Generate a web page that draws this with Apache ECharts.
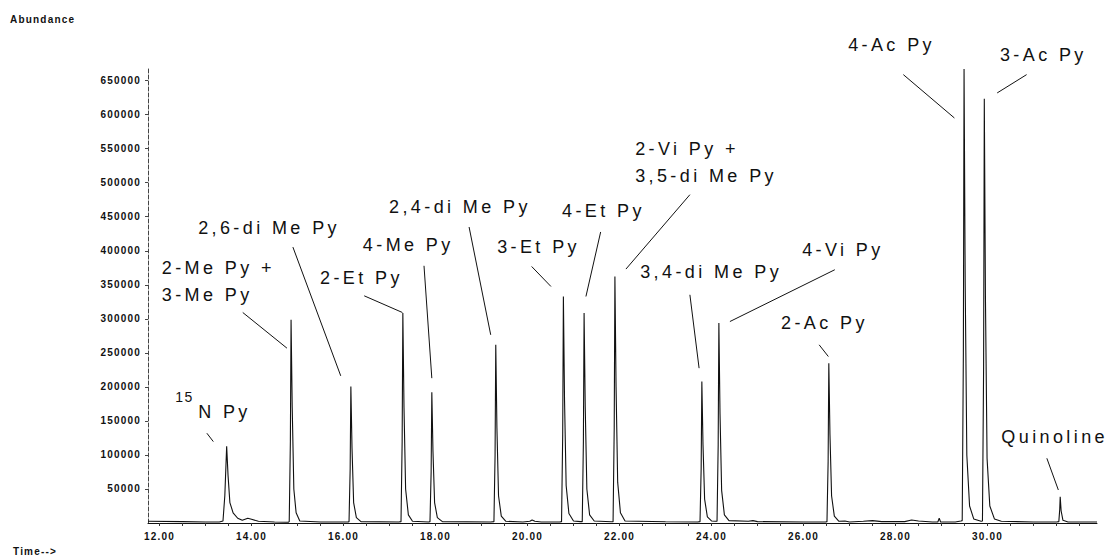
<!DOCTYPE html>
<html>
<head>
<meta charset="utf-8">
<title>Pyridine GC-MS chromatogram</title>
<script src="https://cdn.jsdelivr.net/npm/echarts@6/dist/echarts.min.js"></script>
<style>
    body { margin: 0; background: #fff; }
    /* old-style spaced lettering of the printout */
    #main text[style*="18px"] { letter-spacing: 3.4px; }
    #main text[style*="14px"] { letter-spacing: 1.5px; }
    #main text[style*="10px"] { letter-spacing: 1.2px; }
</style>
</head>
<body>
<div id="main" style="width:1108px;height:558px;"></div>
<script type="text/javascript">

// retention time (min), abundance
var trace = [
    [11.75, 2500], [12.5, 2000], [13.0, 1500], [13.3, 1500],
    [13.38, 3000], [13.42, 40000], [13.46, 112600], [13.49, 70000], [13.53, 30000], [13.6, 15000], [13.7, 7000], [13.8, 4000],
    [13.92, 7000], [14.0, 5500], [14.15, 2500], [14.5, 1500], [14.8, 1200],
    [14.82, 2000], [14.845, 120000], [14.86, 298500], [14.885, 170000], [14.92, 50000], [14.97, 15000], [15.05, 3000], [15.5, 1500], [16.1, 1500],
    [16.12, 2000], [16.145, 80000], [16.16, 200400], [16.185, 110000], [16.22, 30000], [16.28, 8000], [16.38, 2000], [17.2, 1500],
    [17.25, 2000], [17.275, 120000], [17.29, 308400], [17.315, 170000], [17.35, 50000], [17.41, 12000], [17.5, 2500], [17.85, 1500],
    [17.88, 2000], [17.905, 75000], [17.92, 192200], [17.945, 105000], [17.98, 30000], [18.04, 8000], [18.15, 2000], [19.2, 1500],
    [19.27, 2000], [19.295, 100000], [19.31, 261800], [19.335, 140000], [19.37, 40000], [19.43, 10000], [19.53, 2500],
    [19.9, 1500], [20.05, 2500], [20.1, 4500], [20.16, 2500], [20.3, 1500], [20.7, 1500],
    [20.74, 2000], [20.765, 130000], [20.78, 332800], [20.805, 180000], [20.84, 55000], [20.9, 14000], [21.0, 3000], [21.15, 2000],
    [21.19, 2000], [21.215, 120000], [21.23, 308400], [21.255, 170000], [21.29, 50000], [21.35, 12000], [21.45, 3000], [21.82, 1800],
    [21.86, 2000], [21.885, 140000], [21.9, 362200], [21.925, 200000], [21.96, 60000], [22.02, 15000], [22.12, 3000], [23.0, 1800], [23.7, 1500],
    [23.75, 2000], [23.775, 80000], [23.79, 207800], [23.815, 115000], [23.85, 35000], [23.91, 9000], [24.0, 3000], [24.08, 2500],
    [24.12, 2500], [24.145, 115000], [24.16, 293700], [24.185, 160000], [24.22, 48000], [24.28, 12000], [24.38, 3500], [24.8, 2500], [24.9, 3500], [25.0, 2000], [26.0, 1500], [26.48, 1500],
    [26.51, 2000], [26.535, 90000], [26.55, 234800], [26.575, 130000], [26.61, 40000], [26.67, 10000], [26.77, 2500], [26.9, 3000], [27.0, 1500], [27.3, 2500], [27.5, 3500], [27.7, 2000], [28.2, 2000], [28.35, 4500], [28.5, 3000], [28.8, 1500],
    [28.92, 1500], [28.95, 7000], [28.98, 1500], [29.3, 1500], [29.42, 3000],
    [29.45, 3500], [29.475, 250000], [29.49, 667200], [29.515, 350000], [29.55, 100000], [29.61, 25000], [29.7, 6000], [29.86, 2500],
    [29.89, 3000], [29.915, 230000], [29.93, 623300], [29.955, 330000], [29.99, 95000], [30.05, 25000], [30.15, 6000], [30.3, 2500], [31.0, 1500], [31.5, 1500],
    [31.55, 2000], [31.57, 20000], [31.58, 38700], [31.6, 18000], [31.64, 4000], [31.75, 1500], [32.38, 1500]
];

var timeLabels = [12, 14, 16, 18, 20, 22, 24, 26, 28, 30];
var timeTicks = [12, 12.5, 13, 13.5, 14, 14.5, 15, 15.5, 16, 16.5, 17, 17.5, 18, 18.5, 19, 19.5, 20, 20.5,
                 21, 21.5, 22, 22.5, 23, 23.5, 24, 24.5, 25, 25.5, 26, 26.5, 27, 27.5, 28, 28.5, 29, 29.5,
                 30, 30.5, 31, 31.5, 32];
var abundTicks = [50000, 100000, 150000, 200000, 250000, 300000, 350000, 400000, 450000,
                  500000, 550000, 600000, 650000];

// peak names, where they are written and the leader line to each peak (time, abundance)
var labelText = ['15', 'N Py', '2-Me Py +', '3-Me Py', '2,6-di Me Py', '2-Et Py', '4-Me Py', '2,4-di Me Py',
                 '3-Et Py', '4-Et Py', '2-Vi Py +', '3,5-di Me Py', '3,4-di Me Py', '4-Vi Py', '2-Ac Py',
                 '4-Ac Py', '3-Ac Py', 'Quinoline'];
var labelAt = [[12.34, 185300], [12.84, 163200], [12.05, 375000], [12.05, 335300], [12.84, 433800],
               [15.49, 360300], [16.42, 408800], [16.99, 464700], [19.34, 405900], [20.75, 458800],
               [22.34, 550000], [22.34, 510300], [22.45, 369100], [25.97, 401500], [25.51, 294100],
               [26.97, 702900], [30.27, 688200], [30.3, 126500]];
var leaderLines = [
    [[13.03, 131900], [13.17, 119600]],
    [[13.81, 309300], [14.77, 256900]],
    [[14.90, 405400], [15.94, 216200]],
    [[16.45, 333800], [17.28, 309300]],
    [[17.75, 377900], [17.92, 212800]],
    [[18.73, 434900], [19.20, 276500]],
    [[20.09, 376900], [20.51, 347500]],
    [[21.59, 427600], [21.27, 332800]],
    [[23.53, 482400], [22.14, 373100]],
    [[23.53, 335300], [23.73, 227500]],
    [[26.68, 372100], [24.40, 296000]],
    [[26.34, 261800], [26.54, 244600]],
    [[28.17, 658800], [29.28, 595100]],
    [[30.85, 658800], [30.21, 631900]],
    [[31.29, 95100], [31.54, 48500]]
];

var myChart = echarts.init(document.getElementById('main'), null, { renderer: 'svg' });

var axisFont = { fontFamily: 'Liberation Sans', fontWeight: 'bold', fontSize: 10, color: '#111' };

var option = {
    animation: false,
    backgroundColor: '#fff',
    grid: { left: 148, right: 11, top: 67, bottom: 35 },
    xAxis: {
        type: 'value',
        min: 11.75,
        max: 32.38,
        axisLine: { show: true, lineStyle: { color: '#111', width: 1 } },
        axisTick: { show: true, length: 3, customValues: timeTicks, lineStyle: { color: '#333' } },
        splitLine: { show: false },
        axisLabel: Object.assign({
            margin: 8,
            customValues: timeLabels,
            formatter: function (v) { return v.toFixed(2); }
        }, axisFont)
    },
    yAxis: {
        type: 'value',
        min: 0,
        max: 670000,
        interval: 50000,
        axisLine: { show: true, lineStyle: { color: '#444', width: 1, type: [4, 2] } },
        axisTick: { show: true, length: 3, customValues: abundTicks, lineStyle: { color: '#444' } },
        splitLine: { show: false },
        axisLabel: Object.assign({
            margin: 7,
            customValues: abundTicks,
            formatter: function (v) { return String(v); }
        }, axisFont)
    },
    series: [{
        type: 'line',
        data: trace,
        showSymbol: false,
        clip: true,
        lineStyle: { color: '#111', width: 1.1 }
    }]
};
myChart.setOption(option);

// annotations, placed through the chart's own axes
var graphics = [
    { type: 'text', x: 10, y: 19, style: { text: 'Abundance', fontFamily: 'Liberation Sans', fontWeight: 'bold', fontSize: 10, fill: '#111', textVerticalAlign: 'middle' } },
    { type: 'text', x: 13, y: 551, style: { text: 'Time-->', fontFamily: 'Liberation Sans', fontWeight: 'bold', fontSize: 10, fill: '#111', textVerticalAlign: 'middle' } }
];
labelText.forEach(function (txt, i) {
    var p = myChart.convertToPixel({ gridIndex: 0 }, labelAt[i]);
    graphics.push({
        type: 'text', x: p[0], y: p[1],
        style: {
            text: txt,
            fontFamily: 'Liberation Sans',
            fontSize: txt === '15' ? 14 : 18,
            fill: '#111',
            textAlign: 'left',
            textVerticalAlign: 'middle'
        }
    });
});
leaderLines.forEach(function (seg) {
    var a = myChart.convertToPixel({ gridIndex: 0 }, seg[0]);
    var b = myChart.convertToPixel({ gridIndex: 0 }, seg[1]);
    graphics.push({
        type: 'line',
        shape: { x1: a[0], y1: a[1], x2: b[0], y2: b[1] },
        style: { stroke: '#111', lineWidth: 1 }
    });
});
myChart.setOption({ graphic: graphics });
</script>
</body>
</html>
